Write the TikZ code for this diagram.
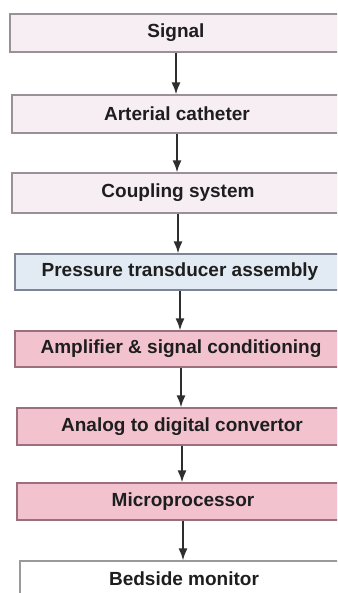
\documentclass[tikz,border=0pt]{standalone}
\usepackage{fontspec}
\setmainfont{Liberation Sans}
\usetikzlibrary{arrows.meta}
\definecolor{pfill}{HTML}{F7EEF3}
\definecolor{pdraw}{HTML}{9A9098}
\definecolor{bfill}{HTML}{E2EAF3}
\definecolor{bdraw}{HTML}{7D8496}
\definecolor{kfill}{HTML}{F2C3CF}
\definecolor{kdraw}{HTML}{9C6F7C}
\definecolor{wdraw}{HTML}{9A9A9A}
\definecolor{txt}{HTML}{1E1E1E}
\definecolor{arrc}{HTML}{2E2E2E}
\tikzset{
  box/.style={rectangle, line width=1.1pt, inner sep=0pt, text=txt,
    font=\fontsize{19}{22}\selectfont\bfseries},
  lightbox/.style={box, fill=pfill, draw=pdraw},
  bluebox/.style={box, fill=bfill, draw=bdraw},
  pinkbox/.style={box, fill=kfill, draw=kdraw},
  whitebox/.style={box, fill=white, draw=wdraw},
  arr/.style={draw=arrc, line width=1.9pt, -{Latex[length=12pt,width=9pt]}}
}
\begin{document}
\begin{tikzpicture}[x=1pt,y=-1pt]
\useasboundingbox (0,0) rectangle (337,593);
\clip (0,0) rectangle (337,593);
\fill[white] (0,0) rectangle (337,593);
\node[lightbox, minimum width=332pt, minimum height=38pt] (n1) at (176,33) {Signal};
\node[lightbox, minimum width=330pt, minimum height=38pt] (n2) at (177,114) {Arterial catheter};
\node[lightbox, minimum width=332pt, minimum height=40pt] (n3) at (178,193) {Coupling system};
\node[bluebox, minimum width=330pt, minimum height=36pt] (n4) at (180,272) {Pressure transducer assembly};
\node[pinkbox, minimum width=332pt, minimum height=36pt] (n5) at (181,349) {Amplifier \& signal conditioning};
\node[pinkbox, minimum width=330pt, minimum height=37pt] (n6) at (182,426.5) {Analog to digital convertor};
\node[pinkbox, minimum width=332pt, minimum height=37pt] (n7) at (183,501.5) {Microprocessor};
\node[whitebox, minimum width=328pt, text height=24pt, text depth=20pt] (n8) at (184,583) {Bedside monitor};
\draw[arr] (n1.south) -- (n1.south |- n2.north);
\draw[arr] (n2.south) -- (n2.south |- n3.north);
\draw[arr] (n3.south) -- (n3.south |- n4.north);
\draw[arr] (n4.south) -- (n4.south |- n5.north);
\draw[arr] (n5.south) -- (n5.south |- n6.north);
\draw[arr] (n6.south) -- (n6.south |- n7.north);
\draw[arr] (n7.south) -- (n7.south |- n8.north);
\end{tikzpicture}
\end{document}
